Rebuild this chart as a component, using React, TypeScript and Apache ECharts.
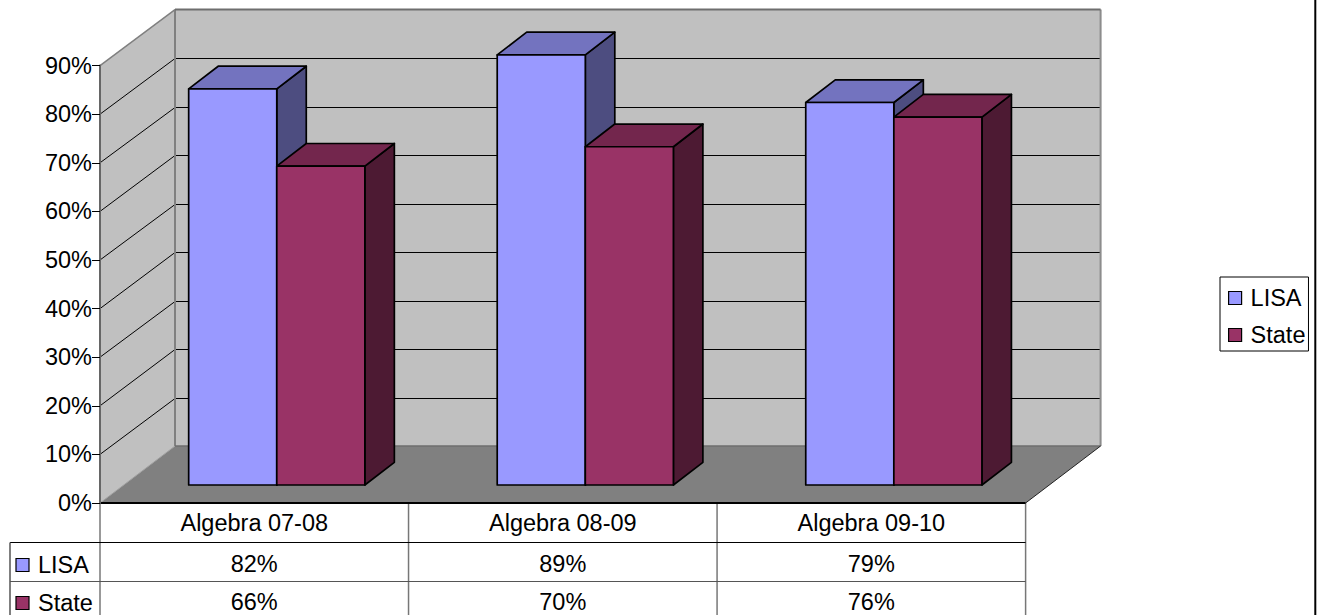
import React, { useEffect, useRef } from "react";
import * as echarts from "echarts";

const categories = ["Algebra 07-08", "Algebra 08-09", "Algebra 09-10"];
const seriesNames = ["LISA", "State"];
const lisaValues = [81.5, 88.5, 78.7];
const stateValues = [65.6, 69.6, 75.7];
const yTicks = [0, 10, 20, 30, 40, 50, 60, 70, 80, 90];

const FONT = "'Liberation Sans', Arial, sans-serif";
const FONT_SIZE = 23.5;
const WALL_DX = 75;
const WALL_DY_TOP = 56;
const WALL_DY_BOTTOM = 57;
const BAR_DX = 29.5;
const BAR_DY = 22.7;
const BAR_INSET_DY = 18;
const BAR_CENTER_SHIFT = 22.5;
const ROW_LINES = [542.5, 581.5];
const PAGE_BOTTOM = 615;

const LISA_FACES = { front: "#9999FF", top: "#7373BF", side: "#4D4D80" };
const STATE_FACES = { front: "#993366", top: "#73264D", side: "#4D1A33" };

const polygon = (points: number[][], fill: string, stroke: string, lineWidth: number) => ({
  type: "polygon",
  shape: { points },
  style: { fill, stroke, lineWidth, lineJoin: "round" },
});
const line = (x1: number, y1: number, x2: number, y2: number, stroke: string, lineWidth: number) => ({
  type: "line",
  shape: { x1, y1, x2, y2 },
  style: { stroke, lineWidth, fill: "none" },
});
const label = (text: string, x: number, y: number, align = "center") => ({
  type: "text",
  style: { text, x, y, align, verticalAlign: "middle", fontSize: FONT_SIZE, fontFamily: FONT, fill: "#000" },
});

const renderWalls = (params: any, api: any) => {
  const { x, y, width, height } = params.coordSys;
  const right = x + width;
  const bottom = y + height;
  const bx = x + WALL_DX;
  const br = right + WALL_DX;
  const top = y - WALL_DY_TOP;
  const by = bottom - WALL_DY_BOTTOM;
  const children: any[] = [
    polygon([[bx, top], [br, top], [br, by], [bx, by]], "#C0C0C0", "none", 0),
    polygon([[x, y], [bx, top], [bx, by], [x, bottom]], "#C0C0C0", "none", 0),
    polygon([[x, bottom], [bx, by], [br, by], [right, bottom]], "#808080", "none", 0),
  ];
  yTicks.forEach((t) => {
    if (t === 0 || t === 90) return;
    const gy = api.coord([0, t])[1];
    const backY = Math.round(by - ((bottom - gy) * (by - top)) / height) + 0.5;
    children.push(line(x, gy, bx, backY, "#000", 1));
    children.push(line(bx, backY, br, backY, "#000", 1));
  });
  children.push(
    line(bx, top, bx, by, "#808080", 2),
    line(br, top, br, by, "#8c8c8c", 2),
    line(x, y, bx, top, "#808080", 1.5),
    line(bx, top, br, top, "#6e6e6e", 2),
    line(bx, by, br, by, "#6e6e6e", 1.5),
    line(x, bottom, bx, by, "#a0a0a0", 1),
    line(right, bottom, br, by, "#222", 1),
  );
  return { type: "group", children };
};

const renderTable = (params: any) => {
  const { x, y, width, height } = params.coordSys;
  const bottom = y + height;
  const right = x + width;
  const children: any[] = [];
  [0, 1, 2, 3].forEach((i) => {
    const vx = x + (width / 3) * i;
    children.push(line(vx, bottom, vx, PAGE_BOTTOM, "#777", 1.5));
  });
  children.push(
    line(x, bottom, right, bottom, "#000", 2),
    line(10, ROW_LINES[0], right, ROW_LINES[0], "#000", 1),
    line(10, ROW_LINES[1], right, ROW_LINES[1], "#555", 1),
    line(10, ROW_LINES[0], 10, PAGE_BOTTOM, "#555", 1.5),
    line(1315.3, 0, 1315.3, PAGE_BOTTOM, "#000", 2),
  );
  const swatch = (yc: number, fill: string) => ({
    type: "rect",
    shape: { x: 16, y: yc - 6.5, width: 13, height: 13 },
    style: { fill, stroke: "#000", lineWidth: 1.2 },
  });
  children.push(
    swatch(565, LISA_FACES.front),
    label(seriesNames[0], 38, 565, "left"),
    swatch(603, STATE_FACES.front),
    label(seriesNames[1], 38, 603, "left"),
  );
  return { type: "group", children };
};

const renderBar = (faces: typeof LISA_FACES, side: number, rowY: number) => (params: any, api: any) => {
  const idx = api.value(0);
  const v = api.value(1);
  const band = api.size([1, 0])[0];
  const w = band * 0.2855;
  const base = api.coord([idx, 0]);
  const head = api.coord([idx, v]);
  const x0 = base[0] + BAR_CENTER_SHIFT + (side < 0 ? -w : 0);
  const x1 = x0 + w;
  const yb = base[1] - BAR_INSET_DY;
  const yt = head[1] - BAR_INSET_DY;
  return {
    type: "group",
    children: [
      polygon([[x1, yt], [x1 + BAR_DX, yt - BAR_DY], [x1 + BAR_DX, yb - BAR_DY], [x1, yb]], faces.side, "#000", 1.7),
      polygon([[x0, yt], [x0 + BAR_DX, yt - BAR_DY], [x1 + BAR_DX, yt - BAR_DY], [x1, yt]], faces.top, "#000", 1.7),
      polygon([[x0, yt], [x1, yt], [x1, yb], [x0, yb]], faces.front, "#000", 1.7),
      label(`${Math.round(v)}%`, base[0], rowY),
    ],
  };
};

export default function App() {
  const ref = useRef<HTMLDivElement>(null);
  useEffect(() => {
    document.body.style.margin = "0";
    const chart = echarts.init(ref.current!, undefined, { renderer: "svg" });
    chart.setOption({
      animation: false,
      backgroundColor: "#fff",
      textStyle: { fontFamily: FONT },
      grid: { left: 100, top: 65.6, width: 925.6, height: 437.4, containLabel: false },
      legend: {
        data: seriesNames,
        orient: "vertical",
        left: 1220,
        top: 277,
        padding: [9, 3, 4, 8],
        itemWidth: 13,
        itemHeight: 13,
        itemGap: 13,
        borderColor: "#000",
        borderWidth: 1,
        selectedMode: false,
        icon: "rect",
        itemStyle: { borderColor: "#000", borderWidth: 1.2 },
        textStyle: { fontFamily: FONT, fontSize: FONT_SIZE, color: "#000", padding: [0, 0, 0, 4] },
      },
      xAxis: {
        type: "category",
        data: categories,
        axisLine: { show: false },
        axisTick: { show: false },
        axisLabel: { margin: 8, fontFamily: FONT, fontSize: FONT_SIZE, color: "#000" },
      },
      yAxis: {
        type: "value",
        min: 0,
        max: 90,
        interval: 10,
        z: 5,
        splitLine: { show: false },
        axisLine: { show: true, lineStyle: { color: "#666", width: 2 } },
        axisTick: { show: true, length: 8, lineStyle: { color: "#000", width: 1 } },
        axisLabel: { margin: 8, padding: [5, 0, 0, 0], formatter: "{value}%", fontFamily: FONT, fontSize: FONT_SIZE, color: "#000" },
      },
      series: [
        { type: "custom", name: "walls", silent: true, z: 1, data: [[0, 0]], encode: { x: 0, y: 1 }, renderItem: renderWalls },
        { type: "custom", name: "table", silent: true, z: 1, data: [[0, 0]], encode: { x: 0, y: 1 }, renderItem: renderTable },
        {
          type: "custom",
          name: seriesNames[0],
          z: 2,
          itemStyle: { color: LISA_FACES.front },
          data: lisaValues.map((v, i) => [i, v]),
          encode: { x: 0, y: 1 },
          renderItem: renderBar(LISA_FACES, -1, 563.5),
        },
        {
          type: "custom",
          name: seriesNames[1],
          z: 3,
          itemStyle: { color: STATE_FACES.front },
          data: stateValues.map((v, i) => [i, v]),
          encode: { x: 0, y: 1 },
          renderItem: renderBar(STATE_FACES, 1, 602),
        },
      ],
    });
    return () => chart.dispose();
  }, []);
  return <div ref={ref} style={{ position: "fixed", left: 0, top: 0, width: 1318, height: 615 }} />;
}
